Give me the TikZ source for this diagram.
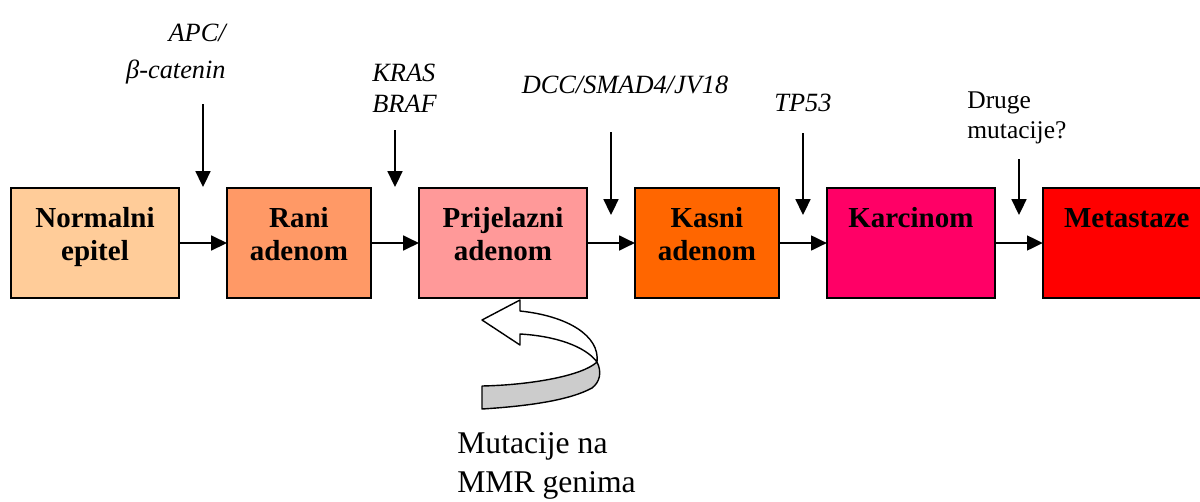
\documentclass[tikz,border=0pt]{standalone}
\usepackage{fontspec}
\setmainfont{Liberation Serif}
\usetikzlibrary{arrows.meta, positioning}

\tikzset{
  stage/.style={draw, line width=1pt, minimum height=2.2cm, minimum width=3.36cm, align=center, inner sep=0pt, outer sep=0pt, text depth=10.5pt, font=\fontsize{16.5}{18.5}\selectfont\bfseries},
  narrow/.style={stage, minimum width=2.88cm},
  gene/.style={inner sep=0pt, font=\fontsize{15}{17.5}\selectfont\itshape},
  flow/.style={line width=1pt, -{Triangle[length=9pt,width=8.5pt]}}
}

\begin{document}
\begin{tikzpicture}[x=0.02cm, y=-0.02cm, node distance=0.96cm]
\clip (0,0) rectangle (1200,501);
% Stages
\node[stage, fill={rgb,255:red,255;green,204;blue,153}] (normal) at (95,243) {Normalni\\epitel};
\node[narrow, fill={rgb,255:red,255;green,153;blue,102}, right=of normal] (rani) {Rani\\adenom};
\node[stage, fill={rgb,255:red,255;green,153;blue,153}, right=of rani] (prijelaz) {Prijelazni\\adenom};
\node[narrow, fill={rgb,255:red,255;green,102;blue,0}, right=of prijelaz] (kasni) {Kasni\\adenom};
\node[stage, fill={rgb,255:red,255;green,0;blue,102}, right=of kasni] (karcinom) {Karcinom\\\mbox{}};
\node[stage, fill={rgb,255:red,255;green,0;blue,0}, right=of karcinom] (metastaze) {Metastaze\\\mbox{}};

\draw[flow] (normal) -- (rani);
\draw[flow] (rani) -- (prijelaz);
\draw[flow] (prijelaz) -- (kasni);
\draw[flow] (kasni) -- (karcinom);
\draw[flow] (karcinom) -- (metastaze);

% Mutations
\node[gene, align=right, anchor=east] (apc) at (226,54) {APC/\\[4pt]β-catenin};
\node[gene, align=left, anchor=west] (kras) at (372,88) {KRAS\\BRAF};
\node[gene] (dcc) at (625,85) {DCC/SMAD4/JV18};
\node[gene] (tp53) at (803,103) {TP53};
\node[gene, font=\fontsize{14.5}{17}\selectfont, align=left, anchor=west] (druge) at (967,118) {Druge\\mutacije?};

\coordinate (apc1) at (203,104);  \coordinate (apc2) at (203,187);
\coordinate (kras1) at (395,130); \coordinate (kras2) at (395,187);
\coordinate (dcc1) at (611,132);  \coordinate (dcc2) at (611,215);
\coordinate (tp1) at (803,133);   \coordinate (tp2) at (803,215);
\coordinate (dr1) at (1019,159);  \coordinate (dr2) at (1019,215);
\draw[flow] (apc1) -- (apc2);
\draw[flow] (kras1) -- (kras2);
\draw[flow] (dcc1) -- (dcc2);
\draw[flow] (tp1) -- (tp2);
\draw[flow] (dr1) -- (dr2);

% MMR loop
\draw[line width=0.8pt, line join=round, fill=white] (482,320) -- (520,300) -- (520,311)
  .. controls (568,316) and (600,336) .. (597,362)
  .. controls (585,346) and (555,336) .. (520,334) -- (520,345) -- cycle;
\draw[line width=0.8pt, line join=round, fill={rgb,255:red,204;green,204;blue,204}] (597,362)
  .. controls (602,372) and (600,382) .. (592,388)
  .. controls (570,400) and (530,406) .. (482,409) -- (482,386)
  .. controls (530,385) and (582,376) .. (597,362) -- cycle;
\node[inner sep=0pt, align=left, anchor=west, font=\fontsize{18}{22.5}\selectfont] (mmr) at (457,466) {Mutacije na\\MMR genima};
\end{tikzpicture}
\end{document}
